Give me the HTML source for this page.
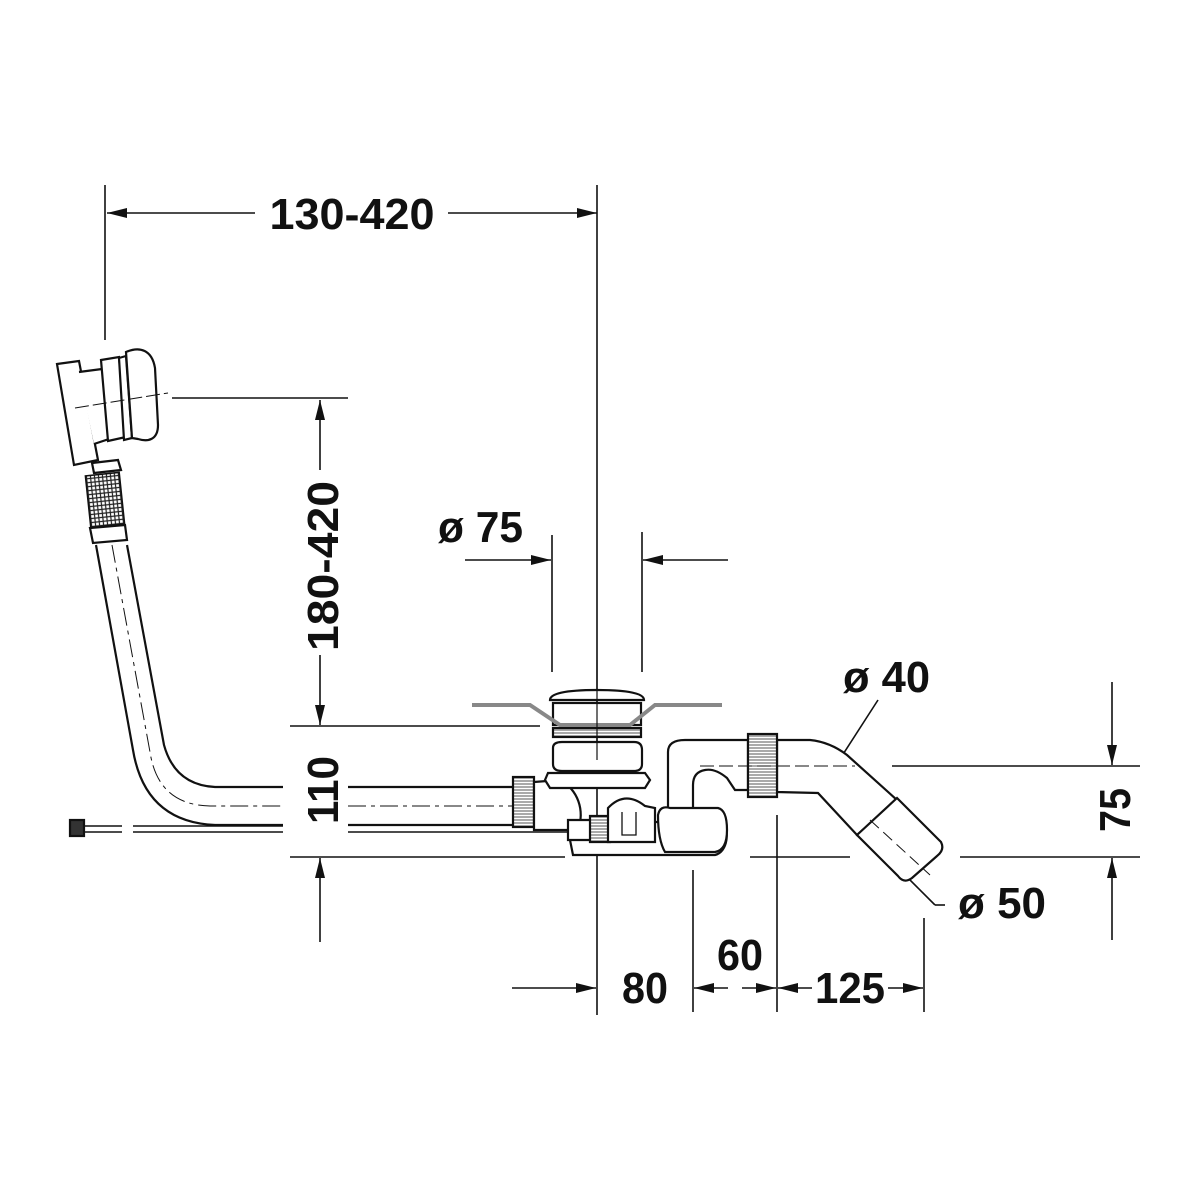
<!DOCTYPE html>
<html><head><meta charset="utf-8"><style>html,body{margin:0;padding:0;background:#fff}svg{display:block}
text{font-family:"Liberation Sans",sans-serif;font-weight:bold;fill:#111}</style></head><body>
<svg width="1200" height="1200" viewBox="0 0 1200 1200" xmlns="http://www.w3.org/2000/svg">
<defs>
<marker id="a" viewBox="0 0 20 10" refX="20" refY="5" markerWidth="20" markerHeight="10" markerUnits="userSpaceOnUse" orient="auto"><path d="M0,0 L20,5 L0,10 Z" fill="#111"/></marker>
<pattern id="h" width="4" height="4" patternUnits="userSpaceOnUse"><rect width="4" height="4" fill="#fff"/><path d="M0,1 H4 M1,0 V4" stroke="#222" stroke-width="1.2"/></pattern>
<pattern id="hl" width="4" height="3" patternUnits="userSpaceOnUse"><rect width="4" height="3" fill="#fff"/><path d="M0,1 H4" stroke="#555" stroke-width="1"/></pattern>
</defs>
<g stroke="#111" stroke-width="1.6" fill="none">
<line x1="105" y1="185" x2="105" y2="340"/>
<line x1="597" y1="185" x2="597" y2="1015"/>
<line x1="172" y1="398" x2="348" y2="398"/>
<line x1="290" y1="726" x2="540" y2="726"/>
<line x1="552" y1="535" x2="552" y2="672"/>
<line x1="642" y1="532" x2="642" y2="672"/>
<line x1="290" y1="857" x2="565" y2="857"/>
<line x1="750" y1="857" x2="850" y2="857"/>
<line x1="960" y1="857" x2="1140" y2="857"/>
<line x1="892" y1="766" x2="1140" y2="766"/>
<line x1="693" y1="870" x2="693" y2="1012"/>
<line x1="777" y1="815" x2="777" y2="1012"/>
<line x1="924" y1="918" x2="924" y2="1012"/>
<line x1="255" y1="213" x2="107" y2="213" marker-end="url(#a)"/>
<line x1="448" y1="213" x2="597" y2="213" marker-end="url(#a)"/>
<line x1="320" y1="470" x2="320" y2="400" marker-end="url(#a)"/>
<line x1="320" y1="655" x2="320" y2="725" marker-end="url(#a)"/>
<line x1="320" y1="942" x2="320" y2="858" marker-end="url(#a)"/>
<line x1="465" y1="560" x2="551" y2="560" marker-end="url(#a)"/>
<line x1="728" y1="560" x2="643" y2="560" marker-end="url(#a)"/>
<line x1="1112" y1="682" x2="1112" y2="765" marker-end="url(#a)"/>
<line x1="1112" y1="940" x2="1112" y2="858" marker-end="url(#a)"/>
<line x1="512" y1="988" x2="596" y2="988" marker-end="url(#a)"/>
<line x1="728" y1="988" x2="694" y2="988" marker-end="url(#a)"/>
<line x1="742" y1="988" x2="776" y2="988" marker-end="url(#a)"/>
<line x1="812" y1="988" x2="778" y2="988" marker-end="url(#a)"/>
<line x1="888" y1="988" x2="923" y2="988" marker-end="url(#a)"/>
<line x1="878" y1="700" x2="820" y2="790"/>
<line x1="945" y1="905" x2="935" y2="905"/><line x1="935" y1="905" x2="905" y2="875"/>
</g>
<!-- overflow head -->
<g stroke="#111" stroke-width="2.2" fill="#fff">
<path d="M57,364 L79,361 L98,460 L74,465 Z"/>
<path d="M79,372 L102,369 L118,436 L94,444"/>
<path d="M101,360 L119,357 L126,437 L108,441 Z"/>
<path d="M119,358 L126,356 L132,438 L124,440 Z"/>
<path d="M126,352 C140,346 152,350 155,368 L158,425 C158,440 148,442 138,439 L132,438 Z"/>
<path d="M92,463 L118,460 L121,470 L94,473 Z"/>
<rect x="88" y="474" width="34" height="52" fill="url(#h)" stroke-width="1.5" transform="rotate(-6 105 500)"/>
<path d="M90,528 L125,525 L127,540 L93,543 Z"/>
</g>
<line x1="75" y1="408" x2="168" y2="393" stroke="#111" stroke-width="1" stroke-dasharray="14 4"/>
<!-- overflow pipe -->
<g stroke="#111" stroke-width="2.2" fill="none">
<path d="M96,545 L133,750 Q145,822 215,825 L283,825"/>
<path d="M127,545 L164,745 Q175,785 215,787 L283,787"/>
<path d="M348,787 L515,787"/><path d="M348,825 L515,825"/>
<path d="M348,832 L575,832" stroke-width="1.6"/>
<path d="M75,832 L122,832 M133,832 L283,832 M75,826 L122,826 M133,826 L283,826" stroke-width="1.6"/>
<rect x="70" y="820" width="14" height="16" fill="#333"/>
</g>
<path d="M112,545 L150,752 Q158,805 210,806 L283,806 M348,806 L520,806" stroke="#111" stroke-width="1" fill="none" stroke-dasharray="18 5 4 5"/>
<!-- drain body -->
<g stroke="#111" stroke-width="2.2" fill="#fff">
<rect x="513" y="777" width="21" height="50" fill="url(#hl)"/>
<path d="M534,782 L560,780 C578,790 585,810 578,830 L534,830 Z"/>
<path d="M568,830 L573,855 L715,855 C728,852 730,830 722,822 L640,822 L640,830 Z"/>
<path d="M548,773 L645,773 L650,780 L645,788 L550,788 L545,780 Z"/>
<path d="M553,748 Q553,742 562,742 L634,742 Q642,742 642,750 L642,764 Q642,771 634,771 L562,771 Q553,771 553,764 Z"/>
<rect x="553" y="728" width="88" height="9" fill="url(#hl)"/>
<rect x="553" y="703" width="88" height="22"/>
<path d="M550,700 Q550,690 597,690 Q644,690 644,700 Z"/>
<path d="M568,820 L595,820 L600,840 L568,840 Z"/>
<path d="M590,816 L610,816 L610,842 L590,842 Z" fill="url(#hl)"/>
<path d="M608,808 Q625,790 645,806 L655,808 L655,842 L608,842 Z"/>
<path d="M622,812 L622,835 L636,835 L636,812" fill="none" stroke-width="1.3"/>
<!-- trap -->
<path d="M668,815 L668,752 Q668,740 685,740 L748,740 L748,790 L735,790 L727,778 Q715,768 705,770 Q693,772 693,785 L693,815 Z"/>
<path d="M658,815 Q660,805 670,808 L718,808 Q727,810 727,830 Q727,850 715,852 L665,852 Q658,840 658,815 Z"/>
<path d="M777,740 L810,740 Q830,742 847,755 L897,800 L857,835 L818,793 L777,792 Z"/>
<rect x="748" y="734" width="29" height="63" fill="url(#hl)"/>
<path d="M857,835 L897,798 L941,842 Q945,850 937,856 L912,878 Q904,884 898,876 Z"/>
</g>
<line x1="870" y1="820" x2="930" y2="875" stroke="#111" stroke-width="1" stroke-dasharray="12 6"/>
<!-- tub line -->
<path d="M472,705 L530,705 L560,725 L630,725 L655,705 L722,705" stroke="#888" stroke-width="4" fill="none"/>
<line x1="597" y1="660" x2="597" y2="760" stroke="#111" stroke-width="1.2"/>
<line x1="700" y1="766" x2="855" y2="766" stroke="#111" stroke-width="1" stroke-dasharray="14 5"/>
<text x="352" y="229" font-size="44" text-anchor="middle" textLength="165" lengthAdjust="spacingAndGlyphs">130-420</text>
<text transform="translate(338,566) rotate(-90)" font-size="44" text-anchor="middle" textLength="170" lengthAdjust="spacingAndGlyphs">180-420</text>
<text transform="translate(338,790) rotate(-90)" font-size="44" text-anchor="middle" textLength="68" lengthAdjust="spacingAndGlyphs">110</text>
<text transform="translate(1130,810) rotate(-90)" font-size="44" text-anchor="middle" textLength="44" lengthAdjust="spacingAndGlyphs">75</text>
<text x="438" y="542" font-size="44" textLength="85" lengthAdjust="spacingAndGlyphs">ø 75</text>
<text x="843" y="692" font-size="44" textLength="87" lengthAdjust="spacingAndGlyphs">ø 40</text>
<text x="958" y="918" font-size="44" textLength="88" lengthAdjust="spacingAndGlyphs">ø 50</text>
<text x="645" y="1003" font-size="44" text-anchor="middle" textLength="46" lengthAdjust="spacingAndGlyphs">80</text>
<text x="740" y="970" font-size="44" text-anchor="middle" textLength="46" lengthAdjust="spacingAndGlyphs">60</text>
<text x="850" y="1003" font-size="44" text-anchor="middle" textLength="70" lengthAdjust="spacingAndGlyphs">125</text>
</svg>
</body></html>
